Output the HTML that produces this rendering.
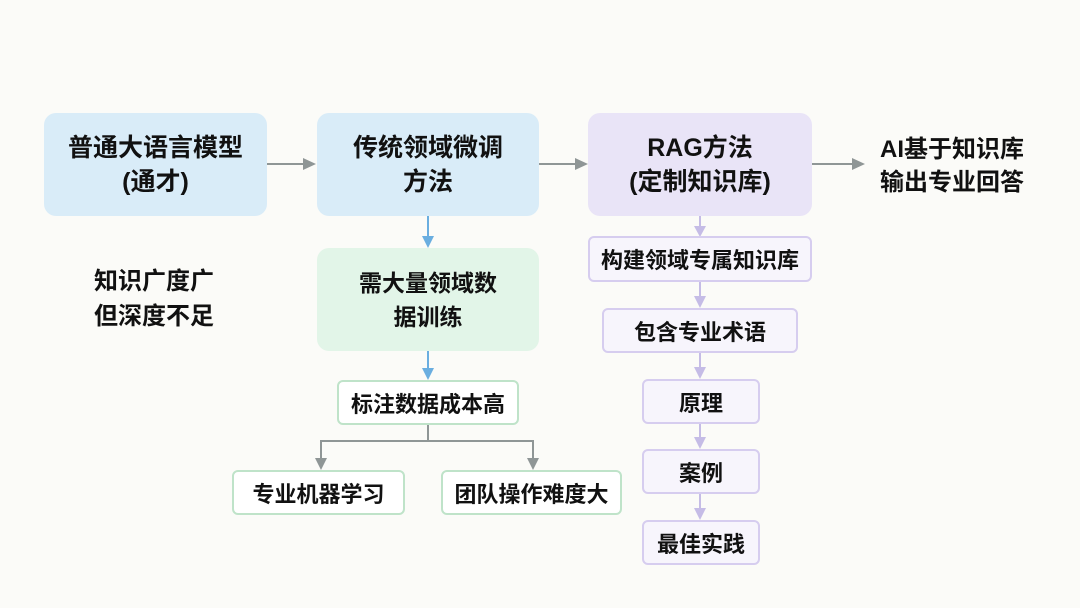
<!DOCTYPE html>
<html><head><meta charset="utf-8"><style>
body{margin:0;width:1080px;height:608px;background:#fbfbf8;position:relative;overflow:hidden;font-family:"Liberation Sans","Noto Sans CJK SC",sans-serif;font-weight:bold;color:#111}
.b{position:absolute;box-sizing:border-box;display:flex;align-items:center;justify-content:center;text-align:center;border-radius:12px;white-space:nowrap}
.big{font-size:25px;line-height:34px}
.sm{font-size:22px;border-radius:6px}
.blue{background:#d9ecf8}
.pur{background:#e9e4f7}
.grn{background:#e2f5e8}
.gw{background:#fff;border:2px solid #bfe3c9}
.pw{background:#f7f5fc;border:2px solid #d6cdef}
.t{position:absolute;font-size:24px;line-height:33px;text-align:center}
</style></head><body>
<svg width="1080" height="608" style="position:absolute;left:0;top:0">
<g stroke="#8f9696" stroke-width="2" fill="none">
<line x1="267" y1="164" x2="305" y2="164"/><line x1="539" y1="164" x2="576" y2="164"/><line x1="812" y1="164" x2="852" y2="164"/>
<polyline points="428,425 428,441 321,441 321,460"/><polyline points="428,441 533,441 533,460"/>
</g>
<g fill="#8f9696">
<polygon points="316,164 303,158 303,170"/><polygon points="588,164 575,158 575,170"/><polygon points="865,164 852,158 852,170"/>
<polygon points="321,470 315,458 327,458"/><polygon points="533,470 527,458 539,458"/>
</g>
<g stroke="#6aaee0" stroke-width="2"><line x1="428" y1="216" x2="428" y2="238"/><line x1="428" y1="351" x2="428" y2="370"/></g>
<g fill="#6aaee0"><polygon points="428,248 422,236 434,236"/><polygon points="428,380 422,368 434,368"/></g>
<g stroke="#c5bce6" stroke-width="2"><line x1="700" y1="216" x2="700" y2="228"/><line x1="700" y1="282" x2="700" y2="298"/><line x1="700" y1="353" x2="700" y2="369"/><line x1="700" y1="424" x2="700" y2="439"/><line x1="700" y1="494" x2="700" y2="510"/></g>
<g fill="#c5bce6"><polygon points="700,237 694,226 706,226"/><polygon points="700,308 694,296 706,296"/><polygon points="700,379 694,367 706,367"/><polygon points="700,449 694,437 706,437"/><polygon points="700,520 694,508 706,508"/></g>
</svg>
<div class="b big blue" style="left:44px;top:113px;width:223px;height:103px">普通大语言模型<br>(通才)</div>
<div class="b big blue" style="left:317px;top:113px;width:222px;height:103px">传统领域微调<br>方法</div>
<div class="b big pur" style="left:588px;top:113px;width:224px;height:103px">RAG方法<br>(定制知识库)</div>
<div class="t" style="left:862px;top:133px;width:180px">AI基于知识库<br>输出专业回答</div>
<div class="t" style="left:74px;top:264px;width:160px;font-size:24px;line-height:35px">知识广度广<br>但深度不足</div>
<div class="b big grn" style="left:317px;top:248px;width:222px;height:103px;font-size:23px">需大量领域数<br>据训练</div>
<div class="b sm gw" style="left:337px;top:380px;width:182px;height:45px">标注数据成本高</div>
<div class="b sm gw" style="left:232px;top:470px;width:173px;height:45px">专业机器学习</div>
<div class="b sm gw" style="left:441px;top:470px;width:181px;height:45px">团队操作难度大</div>
<div class="b sm pw" style="left:588px;top:236px;width:224px;height:46px">构建领域专属知识库</div>
<div class="b sm pw" style="left:602px;top:308px;width:196px;height:45px">包含专业术语</div>
<div class="b sm pw" style="left:642px;top:379px;width:118px;height:45px">原理</div>
<div class="b sm pw" style="left:642px;top:449px;width:118px;height:45px">案例</div>
<div class="b sm pw" style="left:642px;top:520px;width:118px;height:45px">最佳实践</div>
</body></html>
